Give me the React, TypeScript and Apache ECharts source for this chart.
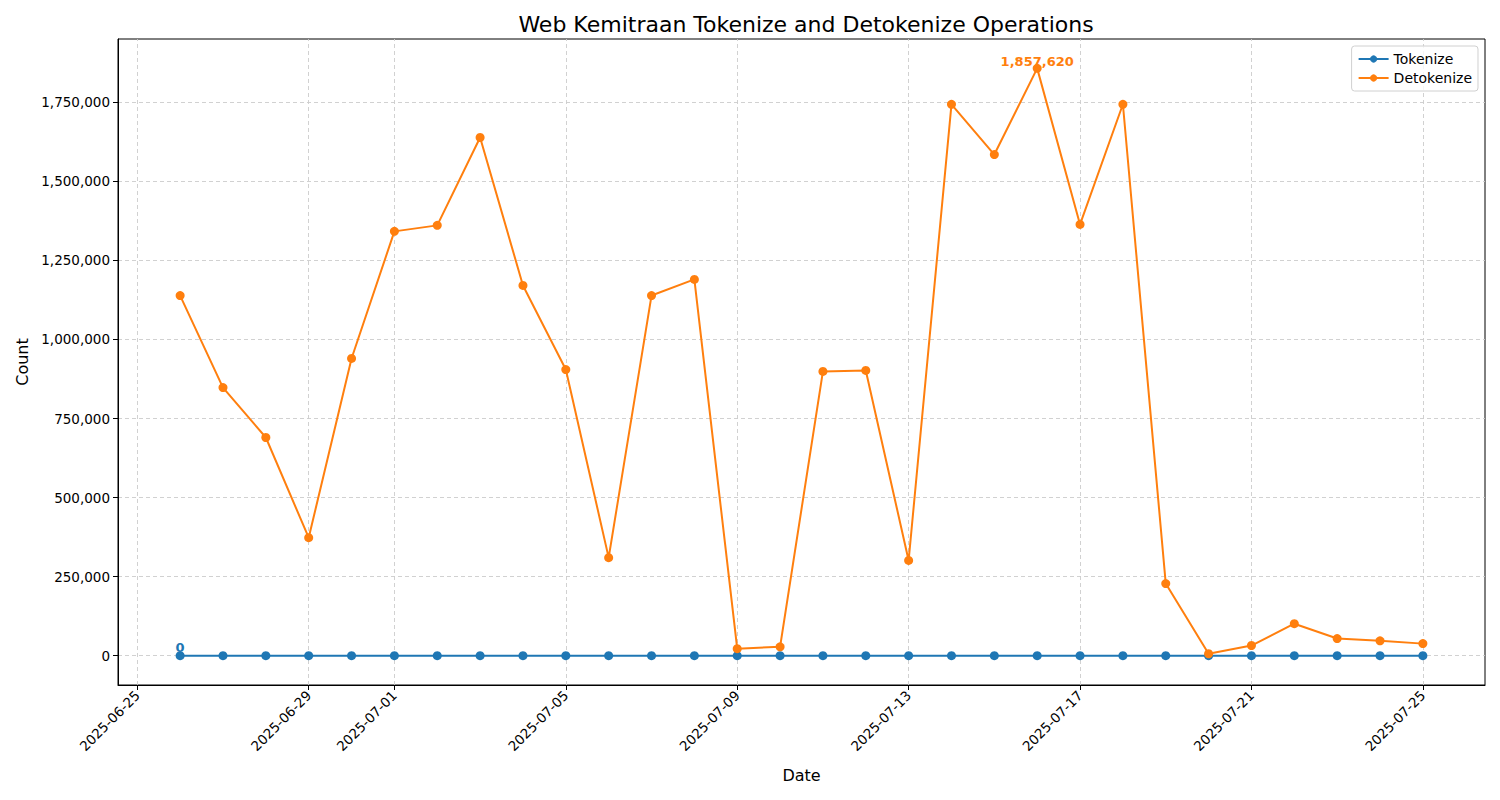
import React, { useEffect, useRef } from "react";
import * as echarts from "echarts";

const dates: string[] = [
  "2025-06-26", "2025-06-27", "2025-06-28", "2025-06-29", "2025-06-30",
  "2025-07-01", "2025-07-02", "2025-07-03", "2025-07-04", "2025-07-05",
  "2025-07-06", "2025-07-07", "2025-07-08", "2025-07-09", "2025-07-10",
  "2025-07-11", "2025-07-12", "2025-07-13", "2025-07-14", "2025-07-15",
  "2025-07-16", "2025-07-17", "2025-07-18", "2025-07-19", "2025-07-20",
  "2025-07-21", "2025-07-22", "2025-07-23", "2025-07-24", "2025-07-25",
];

const tokenize: number[] = [
  0, 0, 0, 0, 0, 0, 0, 0, 0, 0,
  0, 0, 0, 0, 0, 0, 0, 0, 0, 0,
  0, 0, 0, 0, 0, 0, 0, 0, 0, 0,
];

const detokenize: number[] = [
  1139000, 848000, 690000, 373000, 940000,
  1342000, 1361000, 1639000, 1171000, 905000,
  310000, 1139000, 1190000, 22000, 28000,
  899000, 902000, 301000, 1744000, 1585000,
  1857620, 1364000, 1744000, 228000, 6000,
  32000, 101000, 54000, 47000, 38000,
];

const xTickLabels: string[] = [
  "2025-06-25", "2025-06-29", "2025-07-01", "2025-07-05", "2025-07-09",
  "2025-07-13", "2025-07-17", "2025-07-21", "2025-07-25",
];

const yTicks: number[] = [0, 250000, 500000, 750000, 1000000, 1250000, 1500000, 1750000];

const ts = (d: string) => Date.parse(d + "T00:00:00Z");
const fmtDate = (v: number) => {
  const d = new Date(v);
  const m = String(d.getUTCMonth() + 1).padStart(2, "0");
  const dd = String(d.getUTCDate()).padStart(2, "0");
  return `${d.getUTCFullYear()}-${m}-${dd}`;
};
const fmtNum = (v: number) => Math.round(v).toLocaleString("en-US");

export default function App() {
  const ref = useRef<HTMLDivElement>(null);
  useEffect(() => {
    document.body.style.margin = "0";
    if (!ref.current) return;
    const chart = echarts.init(ref.current, undefined, { renderer: "svg" });

    const xs = dates.map(ts);
    const xMin0 = Math.min(...xs);
    const xMax0 = Math.max(...xs);
    const xPad = (xMax0 - xMin0) * 0.05;
    const allY = [...tokenize, ...detokenize];
    const yMin0 = Math.min(...allY);
    const yMax0 = Math.max(...allY);
    const yPad = (yMax0 - yMin0) * 0.05;

    const maxIdx = detokenize.indexOf(yMax0);
    const font = "DejaVu Sans";

    const tokData = xs.map((x, i) => {
      if (i === 0) {
        return {
          value: [x, tokenize[i]],
          label: {
            show: true,
            position: "top",
            distance: 0,
            offset: [0, 3],
            formatter: fmtNum(tokenize[i]),
            color: "#1f77b4",
            fontWeight: "bold",
            fontSize: 13,
            fontFamily: font,
          },
        };
      }
      return { value: [x, tokenize[i]] };
    });
    const detData = xs.map((x, i) => {
      if (i === maxIdx) {
        return {
          value: [x, detokenize[i]],
          label: {
            show: true,
            position: "top",
            distance: 0,
            offset: [0, 4],
            formatter: fmtNum(detokenize[i]),
            color: "#ff7f0e",
            fontWeight: "bold",
            fontSize: 13,
            fontFamily: font,
          },
        };
      }
      return { value: [x, detokenize[i]] };
    });

    const gridLineStyle = { color: "#cccccc", type: [4, 3], width: 0.9 };
    const gridMarks = [
      ...xTickLabels.map((d) => ({ xAxis: ts(d) })),
      ...yTicks.map((v) => ({ yAxis: v })),
    ];

    chart.setOption({
      animation: false,
      backgroundColor: "#ffffff",
      textStyle: { fontFamily: font },
      title: {
        text: "Web Kemitraan Tokenize and Detokenize Operations",
        left: 801,
        textAlign: "center",
        top: 8,
        textStyle: { fontSize: 22, fontWeight: "normal", color: "#000", fontFamily: font },
      },
      legend: {
        orient: "vertical",
        right: 22,
        top: 46,
        padding: [6, 6, 6, 6],
        itemGap: 5,
        itemWidth: 30,
        itemHeight: 9,
        borderColor: "#d0d0d0",
        borderWidth: 1,
        borderRadius: 3,
        backgroundColor: "rgba(255,255,255,0.8)",
        textStyle: { fontSize: 14, color: "#000", fontFamily: font },
        data: ["Tokenize", "Detokenize"],
      },
      grid: {
        left: 118,
        right: 15,
        top: 39,
        bottom: 115,
        show: true,
        borderColor: "#000",
        borderWidth: 1,
        backgroundColor: "transparent",
      },
      xAxis: {
        type: "value",
        min: xMin0 - xPad,
        max: xMax0 + xPad,
        name: "Date",
        nameLocation: "middle",
        nameGap: 82,
        nameTextStyle: { fontSize: 16, color: "#000", fontFamily: font },
        axisLine: { show: true, onZero: false, lineStyle: { color: "#000", width: 1 } },
        axisTick: {
          show: true,
          length: 5,
          lineStyle: { color: "#000" },
          customValues: xTickLabels.map(ts),
        },
        axisLabel: {
          rotate: 45,
          fontSize: 13.5,
          color: "#000",
          fontFamily: font,
          margin: 8,
          customValues: xTickLabels.map(ts),
          formatter: (v: number) => fmtDate(v),
        },
        splitLine: { show: false },
      },
      yAxis: {
        type: "value",
        min: yMin0 - yPad,
        max: yMax0 + yPad,
        name: "Count",
        nameLocation: "middle",
        nameGap: 88,
        nameTextStyle: { fontSize: 16, color: "#000", fontFamily: font },
        axisLine: { show: true, onZero: false, lineStyle: { color: "#000", width: 1 } },
        axisTick: {
          show: true,
          length: 5,
          lineStyle: { color: "#000" },
          customValues: yTicks,
        },
        axisLabel: {
          fontSize: 13.5,
          color: "#000",
          fontFamily: font,
          margin: 8,
          customValues: yTicks,
          formatter: (v: number) => fmtNum(v),
        },
        splitLine: { show: false },
      },
      series: [
        {
          name: "grid",
          type: "line",
          data: [],
          silent: true,
          z: 0,
          markLine: {
            silent: true,
            z: 0,
            symbol: ["none", "none"],
            label: { show: false },
            lineStyle: gridLineStyle,
            emphasis: { disabled: true },
            data: gridMarks,
          },
        },
        {
          name: "Tokenize",
          type: "line",
          data: tokData,
          color: "#1f77b4",
          symbol: "circle",
          symbolSize: 9,
          lineStyle: { width: 2, color: "#1f77b4" },
          itemStyle: { color: "#1f77b4" },
          z: 3,
        },
        {
          name: "Detokenize",
          type: "line",
          data: detData,
          color: "#ff7f0e",
          symbol: "circle",
          symbolSize: 9,
          lineStyle: { width: 2, color: "#ff7f0e" },
          itemStyle: { color: "#ff7f0e" },
          z: 4,
        },
      ],
    });
    return () => chart.dispose();
  }, []);
  return <div ref={ref} style={{ width: 1500, height: 800 }} />;
}
